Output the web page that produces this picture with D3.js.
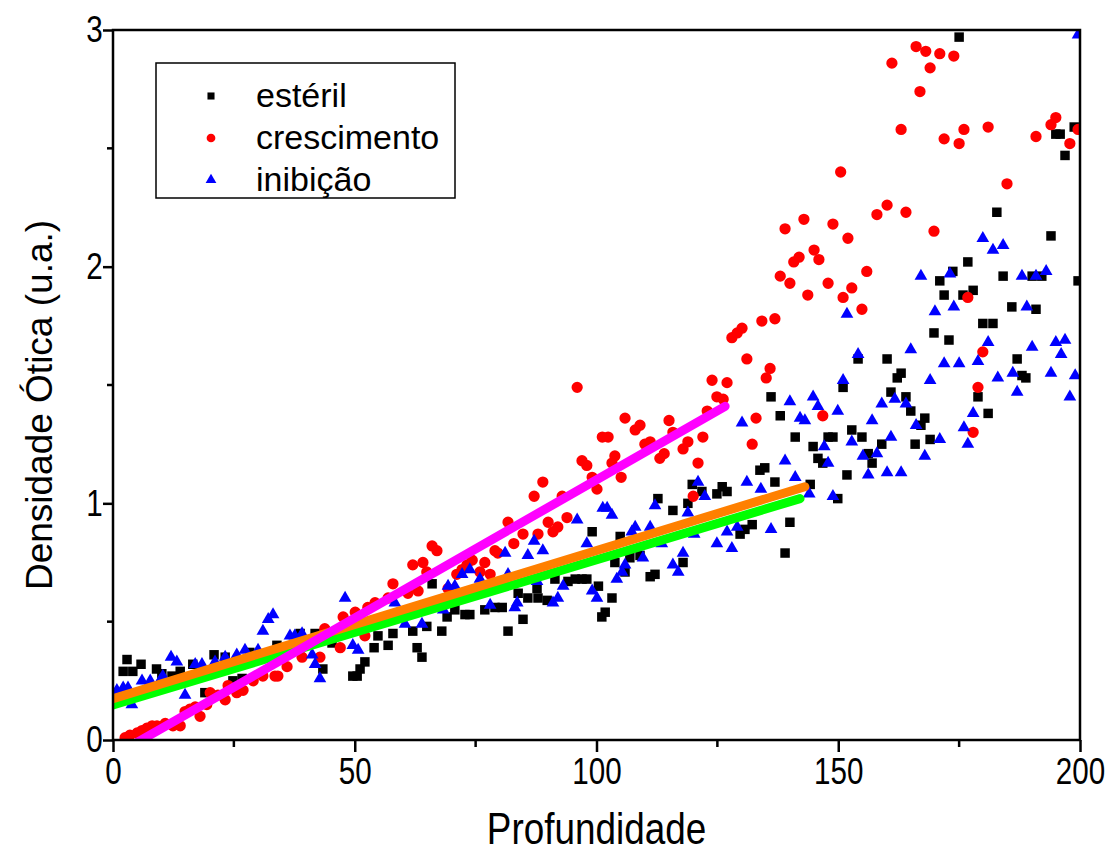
<!DOCTYPE html>
<html>
<head>
<meta charset="utf-8">
<script src="https://cdn.jsdelivr.net/npm/d3@7"></script>
<style>
  body { margin: 0; background: #fff; }
  text { font-family: "Liberation Sans", Arial, sans-serif; }
</style>
</head>
<body>
<div id="chart"></div>
<script>
// Dados: [profundidade, densidade ótica]
const esteril = [
  [1.0,0.20],[2.1,0.29],[2.9,0.34],[4.1,0.29],[5.8,0.32],[9.0,0.30],[10.1,0.28],[12.2,0.27],[13.9,0.29],[16.5,0.32],
  [19.0,0.20],[20.9,0.36],[23.2,0.35],[24.8,0.25],[26.7,0.26],[28.3,0.37],[33.9,0.40],[38.7,0.45],[41.8,0.45],[43.4,0.30],
  [45.3,0.41],[49.6,0.27],[50.5,0.27],[51.1,0.30],[52.1,0.33],[54.0,0.39],[54.8,0.44],[56.9,0.40],[57.9,0.45],[62.0,0.46],
  [62.9,0.39],[63.9,0.35],[64.9,0.48],[66.0,0.66],[68.0,0.46],[69.1,0.52],[70.7,0.55],[72.8,0.53],[73.8,0.53],[76.9,0.55],
  [79.0,0.56],[80.5,0.56],[81.7,0.46],[83.8,0.62],[84.8,0.51],[85.8,0.60],[87.7,0.64],[87.9,0.60],[89.8,0.59],[91.4,0.68],
  [94.1,0.67],[95.6,0.68],[97.0,0.68],[98.0,0.68],[99.1,0.88],[100.4,0.65],[101.1,0.52],[101.8,0.54],[103.2,0.60],[103.8,0.75],
  [104.9,0.86],[105.9,0.71],[106.9,0.77],[109.0,0.78],[111.1,0.69],[112.1,0.70],[112.7,1.02],[115.8,0.97],[117.9,0.75],[118.9,1.00],
  [119.8,1.08],[121.8,1.05],[124.9,1.04],[126.0,1.07],[127.0,1.05],[129.7,0.87],[130.7,0.89],[132.2,0.91],[133.8,1.14],[134.8,1.15],
  [136.1,1.45],[136.9,1.09],[138.0,1.37],[139.0,0.79],[140.0,0.92],[141.1,1.28],[144.2,1.08],[144.8,1.24],[145.8,1.19],[146.8,1.17],
  [147.9,1.28],[148.9,1.28],[149.9,1.02],[151.0,1.49],[151.8,1.12],[152.8,1.31],[154.1,1.61],[154.9,1.28],[156.2,1.21],[157.0,1.17],
  [159.0,1.25],[160.1,1.61],[160.9,1.47],[162.2,1.53],[163.0,1.55],[164.0,1.45],[165.0,1.39],[165.9,1.25],[167.1,1.33],[167.9,1.36],
  [169.0,1.27],[169.8,1.72],[171.0,1.94],[171.9,1.88],[172.9,1.69],[173.7,1.98],[175.0,2.97],[175.8,1.88],[176.8,2.02],[177.9,1.90],
  [178.9,1.45],[179.9,1.76],[181.0,1.38],[182.0,1.76],[182.8,2.23],[184.1,1.96],[185.9,1.83],[187.0,1.61],[188.0,1.54],[188.8,1.53],
  [190.1,1.96],[190.9,1.82],[192.1,1.96],[194.0,2.13],[195.0,2.56],[195.9,2.56],[196.9,2.47],[198.8,2.59],[199.6,1.94]
];

const crescimento = [
  [2.5,0.01],[3.5,0.02],[5.0,0.03],[6.0,0.04],[7.0,0.05],[8.1,0.06],[9.1,0.06],[10.8,0.07],[12.4,0.06],[13.9,0.06],
  [14.9,0.12],[15.9,0.13],[17.0,0.14],[18.0,0.10],[19.4,0.15],[20.1,0.20],[21.7,0.19],[23.2,0.17],[23.8,0.23],[25.6,0.20],
  [26.9,0.21],[29.0,0.25],[31.0,0.27],[33.5,0.27],[34.1,0.27],[36.0,0.31],[39.1,0.35],[42.8,0.35],[43.8,0.47],[47.0,0.39],
  [47.6,0.52],[50.1,0.54],[52.1,0.44],[52.7,0.56],[54.2,0.58],[56.9,0.60],[57.9,0.66],[61.0,0.62],[62.0,0.74],[63.1,0.63],
  [64.1,0.75],[64.9,0.71],[66.0,0.82],[67.0,0.80],[69.3,0.64],[71.1,0.70],[72.2,0.72],[73.2,0.74],[74.3,0.76],[75.9,0.71],
  [76.9,0.75],[78.0,0.70],[79.0,0.80],[79.6,0.79],[81.7,0.92],[82.9,0.83],[84.8,0.87],[87.1,1.03],[87.9,0.87],[88.9,1.09],
  [90.0,0.92],[91.0,0.88],[92.0,0.90],[92.9,1.03],[93.9,0.94],[96.0,1.49],[97.0,1.18],[98.0,1.16],[99.1,1.11],[100.1,1.06],
  [101.2,1.28],[102.4,1.28],[103.2,1.17],[103.8,1.20],[105.1,1.11],[105.9,1.36],[108.0,1.31],[109.0,1.33],[110.0,1.25],[111.1,1.26],
  [113.1,1.19],[114.0,1.21],[115.0,1.35],[115.8,1.30],[117.9,1.23],[118.9,1.26],[120.0,1.03],[121.0,1.17],[122.0,1.28],[122.9,1.39],
  [123.9,1.52],[124.9,1.45],[126.2,1.44],[127.0,1.51],[128.0,1.70],[129.1,1.72],[130.1,1.74],[131.1,1.61],[132.2,1.25],[133.0,1.36],
  [134.2,1.77],[135.1,1.53],[135.9,1.57],[136.9,1.78],[138.0,1.96],[139.0,2.16],[140.0,1.93],[140.8,2.02],[141.9,2.04],[142.9,2.20],
  [143.7,1.88],[145.0,2.07],[146.0,2.03],[146.8,1.37],[147.9,1.93],[148.9,2.18],[150.5,2.40],[151.0,1.87],[152.0,2.12],[152.8,1.91],
  [154.9,1.82],[155.9,1.98],[158.0,2.22],[158.8,3.02],[160.1,2.26],[161.1,2.86],[163.0,2.58],[164.0,2.23],[166.1,2.93],[166.9,2.74],
  [168.1,2.91],[169.0,2.84],[169.8,2.15],[171.0,2.90],[171.9,2.54],[173.9,2.89],[175.0,2.52],[176.0,2.58],[176.8,1.87],[177.9,1.30],
  [178.9,1.49],[179.9,1.64],[181.0,2.59],[184.9,2.35],[190.9,2.55],[194.0,2.60],[195.0,2.63],[197.9,2.52],[199.6,2.58]
];

const inibicao = [
  [0.8,0.21],[2.1,0.22],[3.1,0.22],[3.9,0.15],[6.0,0.25],[7.7,0.25],[9.7,0.25],[10.3,0.27],[12.0,0.35],[13.2,0.33],
  [14.9,0.19],[17.0,0.32],[18.4,0.32],[21.1,0.33],[23.2,0.35],[25.6,0.36],[27.3,0.38],[30.0,0.38],[31.0,0.46],[32.1,0.51],
  [33.1,0.53],[36.6,0.44],[37.6,0.44],[39.1,0.45],[41.2,0.36],[41.8,0.32],[42.8,0.26],[48.0,0.60],[49.6,0.40],[50.7,0.38],
  [58.3,0.58],[60.4,0.49],[63.9,0.49],[67.2,0.58],[68.3,0.55],[69.3,0.65],[70.7,0.65],[72.2,0.70],[73.8,0.72],[75.9,0.68],
  [78.0,0.57],[81.1,0.79],[81.7,0.70],[83.1,0.56],[83.6,0.58],[85.8,0.78],[87.1,0.84],[87.7,0.67],[88.9,0.80],[91.0,0.58],
  [92.0,0.60],[93.1,0.65],[96.0,0.93],[98.0,0.83],[99.1,0.63],[100.1,0.60],[101.3,0.98],[102.2,0.98],[103.2,0.95],[104.2,0.68],
  [105.3,0.71],[105.9,0.74],[107.3,0.88],[108.0,0.90],[109.6,0.77],[111.1,0.90],[112.1,0.99],[113.5,0.83],[115.8,0.74],[116.9,0.71],
  [117.9,0.79],[118.9,0.96],[120.2,0.87],[121.0,1.09],[122.4,1.03],[124.9,0.83],[127.0,0.88],[128.0,0.81],[129.1,0.90],[130.1,1.34],
  [131.1,1.09],[134.0,1.06],[136.1,0.89],[139.0,1.18],[140.0,1.43],[141.1,1.11],[142.1,1.36],[143.1,1.35],[144.0,1.04],[144.8,1.45],
  [145.8,1.41],[147.1,1.24],[147.9,1.17],[148.9,1.03],[149.9,1.39],[151.0,1.52],[151.8,1.80],[152.8,1.26],[154.1,1.63],[155.1,1.20],
  [156.2,1.12],[157.0,1.35],[158.0,1.21],[159.0,1.42],[160.1,1.13],[160.9,1.28],[161.7,1.44],[163.0,1.13],[164.0,1.42],[165.0,1.65],
  [166.1,1.33],[167.1,1.96],[167.9,1.20],[169.0,1.52],[170.0,1.81],[171.0,1.27],[171.9,1.59],[173.1,1.97],[173.9,1.83],[175.0,1.59],
  [176.0,1.32],[176.8,1.25],[177.9,1.38],[178.9,1.60],[179.9,2.12],[181.0,1.68],[182.0,2.07],[183.0,1.53],[184.1,2.09],[186.1,1.55],
  [187.0,1.47],[188.0,1.96],[189.0,1.83],[190.1,1.66],[190.9,1.96],[193.0,1.98],[194.0,1.55],[195.0,1.68],[196.1,1.63],[196.9,1.69],
  [197.9,1.45],[199.0,1.54],[199.6,2.98]
];

// Ajustes lineares (extremos)
const fitInibicao = [[0, 0.148], [142.1, 1.02]];
const fitEsteril = [[0, 0.175], [143.1, 1.07]];
const fitCrescimento = [[5.0, -0.01], [126.6, 1.41]];

const legendLabels = ["estéril", "crescimento", "inibição"];
const xTicks = [0, 50, 100, 150, 200];
const yTicks = [0, 1, 2, 3];

const width = 1112, height = 854;
const margin = { top: 30, right: 32, bottom: 114, left: 113 };

const svg = d3.select("#chart").append("svg")
  .attr("width", width)
  .attr("height", height);

const xScale = d3.scaleLinear().domain([0, 200]).range([margin.left, width - margin.right]);
const yScale = d3.scaleLinear().domain([0, 3]).range([height - margin.bottom, margin.top]);

svg.append("clipPath").attr("id", "plot-clip")
  .append("rect")
  .attr("x", margin.left).attr("y", margin.top)
  .attr("width", width - margin.left - margin.right)
  .attr("height", height - margin.top - margin.bottom);

const plot = svg.append("g").attr("clip-path", "url(#plot-clip)");

/**
 * Desenha uma série de pontos com o símbolo indicado.
 */
function drawSeries(data, symbol, size, color) {
  plot.append("g").selectAll("path")
    .data(data)
    .enter()
    .append("path")
    .attr("d", d3.symbol().type(symbol).size(size))
    .attr("transform", d => `translate(${xScale(d[0])},${yScale(d[1])})`)
    .attr("fill", color);
}

drawSeries(esteril, d3.symbolSquare, 90, "#000000");
drawSeries(crescimento, d3.symbolCircle, 100, "#ff0000");
drawSeries(inibicao, d3.symbolTriangle, 70, "#0000ff");

// Retas de ajuste
const line = d3.line().x(d => xScale(d[0])).y(d => yScale(d[1]));
[[fitInibicao, "#00ff00"], [fitEsteril, "#ff8000"], [fitCrescimento, "#ff00ff"]].forEach(([fit, color]) => {
  plot.append("path")
    .attr("d", line(fit))
    .attr("fill", "none")
    .attr("stroke", color)
    .attr("stroke-width", 9)
    .attr("stroke-linecap", "round");
});

// Eixos
const xAxis = d3.axisBottom(xScale).tickValues(xTicks).tickSize(12).tickPadding(6).tickFormat(d3.format("d"));
const yAxis = d3.axisLeft(yScale).tickValues(yTicks).tickSize(10).tickPadding(3).tickFormat(d3.format("d"));

const gx = svg.append("g")
  .attr("transform", `translate(0,${height - margin.bottom})`)
  .call(xAxis);
const gy = svg.append("g")
  .attr("transform", `translate(${margin.left},0)`)
  .call(yAxis);

// texto estreito, como no original
[gx, gy].forEach(g => {
  g.select(".domain").remove();
  g.selectAll(".tick line").attr("stroke", "#000").attr("stroke-width", 2.5);
  g.selectAll(".tick text")
    .attr("fill", "#000")
    .attr("transform", "scale(0.8,1)")
    .style("font-size", "37px");
});

// Marcas secundárias
svg.append("g").selectAll("line")
  .data([25, 75, 125, 175])
  .enter().append("line")
  .attr("x1", d => xScale(d)).attr("x2", d => xScale(d))
  .attr("y1", height - margin.bottom).attr("y2", height - margin.bottom + 7)
  .attr("stroke", "#000").attr("stroke-width", 2.5);
svg.append("g").selectAll("line")
  .data([0.5, 1.5, 2.5])
  .enter().append("line")
  .attr("x1", margin.left - 6).attr("x2", margin.left)
  .attr("y1", d => yScale(d)).attr("y2", d => yScale(d))
  .attr("stroke", "#000").attr("stroke-width", 2.5);

// Moldura
svg.append("rect")
  .attr("x", margin.left).attr("y", margin.top)
  .attr("width", width - margin.left - margin.right)
  .attr("height", height - margin.top - margin.bottom)
  .attr("fill", "none")
  .attr("stroke", "#000")
  .attr("stroke-width", 2.5);

// Títulos dos eixos
svg.append("text")
  .attr("transform", `translate(${(margin.left + width - margin.right) / 2},844) scale(0.82,1)`)
  .attr("text-anchor", "middle")
  .style("font-size", "45px")
  .text("Profundidade");

svg.append("text")
  .attr("transform", `translate(52,${(margin.top + height - margin.bottom) / 2 + 20}) rotate(-90)`)
  .attr("text-anchor", "middle")
  .style("font-size", "37px")
  .text("Densidade Ótica (u.a.)");

// Legenda
const legend = svg.append("g");
legend.append("rect")
  .attr("x", 156).attr("y", 63)
  .attr("width", 299).attr("height", 135)
  .attr("fill", "#fff")
  .attr("stroke", "#000")
  .attr("stroke-width", 1.5);

const legendSymbols = [
  [d3.symbolSquare, 50, "#000000"],
  [d3.symbolCircle, 60, "#ff0000"],
  [d3.symbolTriangle, 50, "#0000ff"]
];
legendLabels.forEach((label, i) => {
  const yRow = 96 + i * 42;
  legend.append("path")
    .attr("d", d3.symbol().type(legendSymbols[i][0]).size(legendSymbols[i][1]))
    .attr("transform", `translate(211,${yRow})`)
    .attr("fill", legendSymbols[i][2]);
  legend.append("text")
    .attr("x", 256)
    .attr("y", yRow + 11)
    .style("font-size", "34px")
    .text(label);
});
</script>
</body>
</html>
